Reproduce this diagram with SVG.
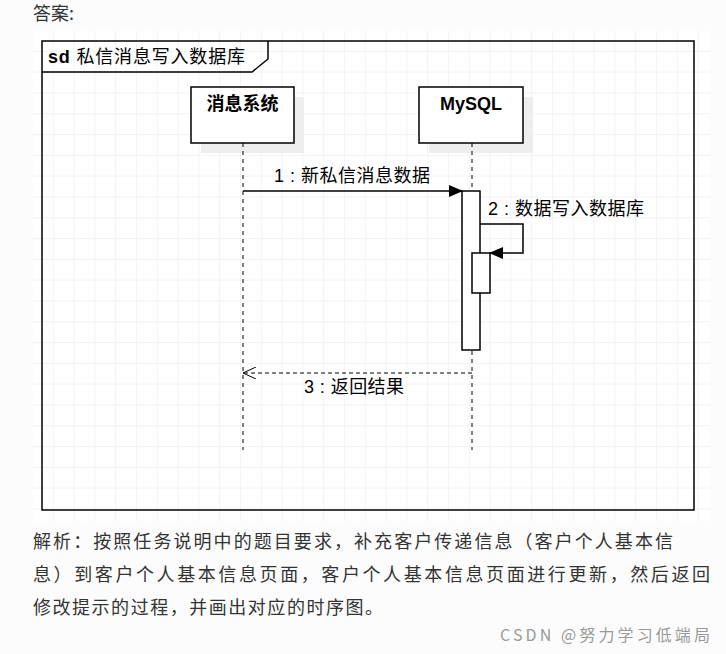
<svg xmlns="http://www.w3.org/2000/svg" width="726" height="654" viewBox="0 0 726 654">
<defs>
<style>
.t{font-family:"Liberation Sans","Noto Sans CJK SC",sans-serif;fill:#000;font-size:18px}
.p{font-family:"Noto Sans CJK SC","Liberation Sans",sans-serif;fill:#333;font-size:18px}
.ln{stroke:#000;stroke-width:1.5;fill:none}
.box{fill:#fff;stroke:#000;stroke-width:1.5}
</style>
<pattern id="g" width="20.8" height="20.8" patternUnits="userSpaceOnUse" x="33" y="31">
<path d="M20.8 0V20.8H0" fill="none" stroke="#e8e8e8" stroke-width="1"/>
</pattern>
<marker id="fa" markerWidth="14" markerHeight="12" refX="13" refY="6" orient="auto" markerUnits="userSpaceOnUse"><path d="M0 0L14 6L0 12Z" fill="#000"/></marker>
<marker id="oa" markerWidth="14" markerHeight="12" refX="13" refY="6" orient="auto" markerUnits="userSpaceOnUse"><path d="M0 0L13 6L0 12" fill="none" stroke="#000"/></marker>
</defs>
<rect width="726" height="654" fill="#fcfcfc"/>
<text class="p" x="33" y="20">答案:</text>
<rect x="33" y="31" width="677" height="490" fill="#fff"/>
<rect x="33" y="31" width="677" height="490" fill="url(#g)"/>
<g id="frame">
<rect x="42" y="41" width="652" height="469" class="ln"/>
<path d="M42 72H252L268 59V41" class="ln"/>
<text class="t" x="48" y="63" textLength="197" lengthAdjust="spacing"><tspan font-weight="bold">sd</tspan> 私信消息写入数据库</text>
</g>
<g id="msgsys">
<rect x="201" y="97" width="103" height="56" fill="#eee"/>
<rect x="191" y="87" width="103" height="56" class="box"/>
<text class="t" x="242.5" y="110" font-weight="bold" text-anchor="middle">消息系统</text>
<line x1="243" y1="143" x2="243" y2="450" stroke="#000" stroke-dasharray="4,4"/>
</g>
<g id="mysql">
<rect x="429" y="97" width="104" height="56" fill="#eee"/>
<rect x="419" y="87" width="104" height="56" class="box"/>
<text class="t" x="471" y="110" font-weight="bold" text-anchor="middle">MySQL</text>
<line x1="472" y1="143" x2="472" y2="450" stroke="#000" stroke-dasharray="4,4"/>
<rect x="462" y="191" width="18" height="159" class="box"/>
<rect x="472" y="253" width="18" height="40" class="box"/>
</g>
<g id="connectors">
<line x1="243" y1="191" x2="462" y2="191" class="ln" marker-end="url(#fa)"/>
<text class="t" x="274" y="182" textLength="156" lengthAdjust="spacing">1 : 新私信消息数据</text>
<path d="M480 224H523V253H490" class="ln" marker-end="url(#fa)"/>
<text class="t" x="488" y="215" textLength="156" lengthAdjust="spacing">2 : 数据写入数据库</text>
<line x1="472" y1="373" x2="243" y2="373" stroke="#000" stroke-dasharray="4,3" marker-end="url(#oa)"/>
<text class="t" x="304" y="393" textLength="100" lengthAdjust="spacing">3 : 返回结果</text>
</g>
<text class="p" x="33" y="548" textLength="640" lengthAdjust="spacing">解析：按照任务说明中的题目要求，补充客户传递信息（客户个人基本信</text>
<text class="p" x="33" y="581" textLength="677" lengthAdjust="spacing">息）到客户个人基本信息页面，客户个人基本信息页面进行更新，然后返回</text>
<text class="p" x="33" y="614" textLength="350" lengthAdjust="spacing">修改提示的过程，并画出对应的时序图。</text>
<text x="710" y="641" font-family="'Noto Sans CJK SC',sans-serif" font-size="16" fill="#999" text-anchor="end" textLength="210" lengthAdjust="spacing">CSDN @努力学习低端局</text>
</svg>
